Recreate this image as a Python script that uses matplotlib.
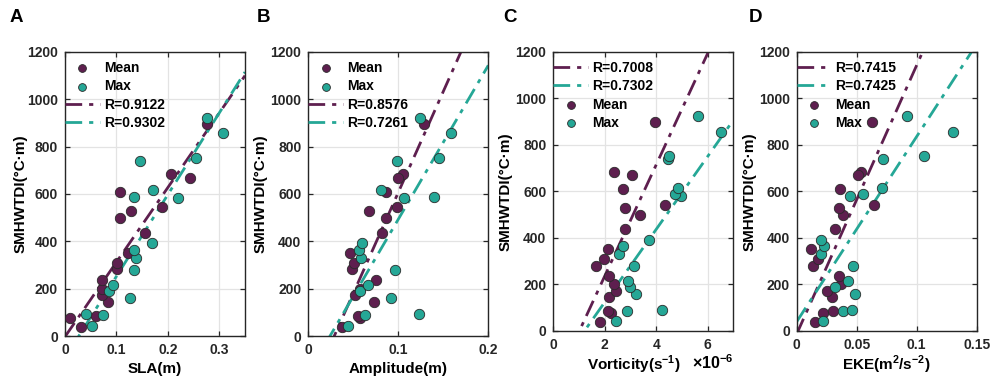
import matplotlib
matplotlib.use("Agg")
import matplotlib.pyplot as plt
import numpy as np

plt.rcParams['font.family'] = ['Liberation Sans', 'DejaVu Sans']
plt.rcParams['font.weight'] = 'bold'
plt.rcParams['mathtext.fontset'] = 'custom'
plt.rcParams['mathtext.rm'] = 'Liberation Sans:bold'
plt.rcParams['mathtext.bf'] = 'Liberation Sans:bold'
plt.rcParams['mathtext.sf'] = 'Liberation Sans'

# ---- data ----
mean_y = [40, 78, 85, 145, 173, 200, 235, 281, 310, 352, 437, 498, 529, 543, 608, 683, 669, 896]
max_y = [44, 87, 91, 161, 190, 215, 279, 331, 365, 392, 581, 588, 615, 740, 753, 856, 922]

sla_mean = [0.032, 0.0097, 0.060, 0.084, 0.0726, 0.0726, 0.0726, 0.102, 0.1005, 0.123, 0.156, 0.107, 0.128, 0.188, 0.107, 0.206, 0.244, 0.276]
sla_max = [0.053, 0.073, 0.040, 0.126, 0.086, 0.093, 0.134, 0.138, 0.134, 0.169, 0.220, 0.134, 0.171, 0.1465, 0.255, 0.308, 0.276]

amp_mean = [0.0374, 0.0578, 0.0552, 0.073, 0.0516, 0.057, 0.0752, 0.049, 0.0508, 0.0463, 0.082, 0.0867, 0.0678, 0.0986, 0.086, 0.105, 0.100, 0.129]
amp_max = [0.0441, 0.0626, 0.1233, 0.0916, 0.0578, 0.0667, 0.0963, 0.0589, 0.0563, 0.060, 0.1067, 0.1397, 0.0804, 0.0986, 0.145, 0.158, 0.1245]

vor_mean = [1.80, 2.26, 2.13, 2.15, 2.45, 2.35, 2.18, 1.67, 1.97, 2.13, 2.78, 3.37, 2.78, 4.36, 2.72, 2.35, 3.06, 3.97]
vor_max = [2.43, 2.87, 4.24, 3.22, 2.98, 2.91, 3.14, 2.56, 2.72, 3.73, 4.96, 4.72, 4.85, 4.46, 4.48, 6.52, 5.63]

eke_mean = [0.0156, 0.0217, 0.0305, 0.0294, 0.025, 0.037, 0.035, 0.0133, 0.0178, 0.012, 0.0319, 0.0383, 0.035, 0.0647, 0.0358, 0.0536, 0.0514, 0.0628]
eke_max = [0.0217, 0.0389, 0.0458, 0.0488, 0.0317, 0.0428, 0.047, 0.0206, 0.0225, 0.0203, 0.0444, 0.0553, 0.0711, 0.0716, 0.106, 0.130, 0.092]

# regression lines (slope, intercept)
fit_mean = [(3152, -3), (8529, -246), (239, -242), (11550, -13)]
fit_max = [(3452, -93), (6503, -157), (156.4, -189), (7956, 40)]
r_mean = ['R=0.9122', 'R=0.8576', 'R=0.7008', 'R=0.7415']
r_max = ['R=0.9302', 'R=0.7261', 'R=0.7302', 'R=0.7425']

xlabels = ['SLA(m)', 'Amplitude(m)', r'Vorticity(s$^{-1}$)', r'EKE(m$^{2}$/s$^{-2}$)']
letters = ['A', 'B', 'C', 'D']
xlims = [(0, 0.35), (0, 0.2), (0, 7), (0, 0.15)]
xticks = [[0, 0.1, 0.2, 0.3], [0, 0.1, 0.2], [0, 2, 4, 6], [0, 0.05, 0.1, 0.15]]
xticklabels = [['0', '0.1', '0.2', '0.3'], ['0', '0.1', '0.2'], ['0', '2', '4', '6'], ['0', '0.05', '0.1', '0.15']]

xs_mean = [sla_mean, amp_mean, vor_mean, eke_mean]
xs_max = [sla_max, amp_max, vor_max, eke_max]

C_MEAN = '#5E1F4F'
C_MAX = '#25A796'
EDGE = '#2a2a2a'

W, H = 991, 378
fig = plt.figure(figsize=(W / 100, H / 100), dpi=100)

lefts = [65, 308.3, 553.3, 796.7]
tops = [52, 52, 51.7, 51.7]
bottoms = [336, 336, 331, 331]
width = 180
letter_x = [10, 257, 503, 749]
ylabel_x = [-0.21, -0.225, -0.225, -0.225]

for i in range(4):
    hgt = bottoms[i] - tops[i]
    ax = fig.add_axes([lefts[i] / W, 1 - bottoms[i] / H, width / W, hgt / H])
    ax.set_xlim(*xlims[i])
    ax.set_ylim(0, 1200)
    ax.grid(True, color='#e3e3e3', linewidth=0.9)
    ax.set_axisbelow(True)
    for s in ax.spines.values():
        s.set_color('#262626')
        s.set_linewidth(1.0)
    ax.tick_params(direction='in', top=True, right=True, length=3.5, width=0.9,
                   colors='#262626', labelsize=10, pad=5)
    ax.set_xticks(xticks[i])
    ax.set_xticklabels(xticklabels[i], fontweight='bold')
    ax.set_yticks(range(0, 1201, 200))
    ax.set_yticklabels([str(v) for v in range(0, 1201, 200)], fontweight='bold')

    xx = np.linspace(xlims[i][0], xlims[i][1], 400)
    sm, im = fit_mean[i]
    sx, ix = fit_max[i]
    lm, = ax.plot(xx, sm * xx + im, color=C_MEAN, linestyle=(0, (6, 2.5, 1.5, 2.5)), linewidth=2.0, zorder=2)
    lx, = ax.plot(xx, sx * xx + ix, color=C_MAX, linestyle=(0, (6, 2.5, 1.5, 2.5)), linewidth=2.0, zorder=2)
    pm = ax.scatter(xs_mean[i], mean_y, s=56, color=C_MEAN, edgecolor=EDGE, linewidth=0.6, zorder=3)
    px = ax.scatter(xs_max[i], max_y, s=56, color=C_MAX, edgecolor=EDGE, linewidth=0.6, zorder=3)

    if i < 2:
        handles = [pm, px, lm, lx]
        labels = ['Mean', 'Max', r_mean[i], r_max[i]]
    else:
        handles = [lm, lx, pm, px]
        labels = [r_mean[i], r_max[i], 'Mean', 'Max']
    ax.legend(handles, labels, loc='upper left', frameon=False,
              bbox_to_anchor=(0, 1 - 9 / hgt),
              prop={'weight': 'bold', 'size': 10}, handlelength=2.5,
              handletextpad=0.3, borderaxespad=0.0, borderpad=0.0,
              labelspacing=0.32, scatterpoints=1, markerscale=0.75)

    ax.set_xlabel(xlabels[i], fontsize=11, fontweight='bold')
    ax.set_ylabel('SMHWTDI(°C·m)', fontsize=11, fontweight='bold')
    ax.yaxis.set_label_coords(ylabel_x[i], 0.5)
    if i >= 2:
        ax.xaxis.set_label_coords(0.45 if i == 2 else 0.5, -0.083)
        ax.xaxis.label.set_va('top')
    ax.text((letter_x[i] - lefts[i]) / width, (bottoms[i] - 17) / hgt, letters[i],
            transform=ax.transAxes, fontsize=13.5, fontweight='bold', ha='left', va='center')
    if i == 2:
        ax.text(1.0, -(363 - bottoms[i]) / hgt, r'$\mathsf{\times10^{-6}}$', transform=ax.transAxes,
                fontsize=11.5, ha='right', va='center')

fig.savefig('out.png', dpi=100)
